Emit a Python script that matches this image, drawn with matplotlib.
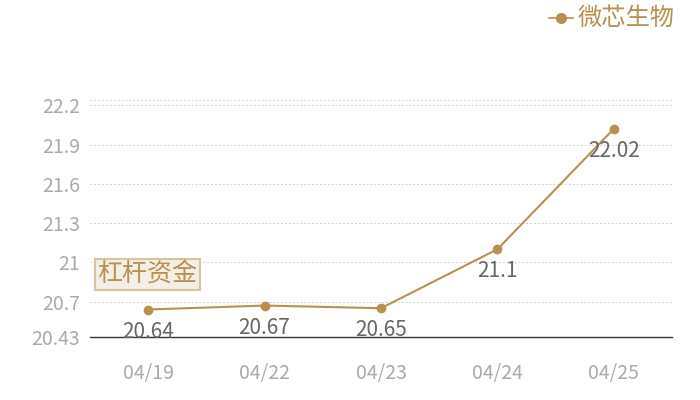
import matplotlib
matplotlib.use('Agg')
import matplotlib.pyplot as plt

plt.rcParams['font.family'] = ['Noto Sans CJK SC', 'DejaVu Sans']

dates = ['04/19', '04/22', '04/23', '04/24', '04/25']
values = [20.64, 20.67, 20.65, 21.1, 22.02]
yticks = [20.43, 20.7, 21, 21.3, 21.6, 21.9, 22.2]
ytick_labels = ['20.43', '20.7', '21', '21.3', '21.6', '21.9', '22.2']
series_name = '微芯生物'

gold = '#b8904f'

fig = plt.figure(figsize=(7, 4), dpi=100)
ax = fig.add_axes([90/700, 1-337/400, (672-90)/700, (337-100)/400])

x = list(range(len(dates)))
ax.plot(x, values, color=gold, lw=1.5, marker='o', ms=6, zorder=3)
for xi, v in zip(x, values):
    ax.annotate(str(v), (xi, v), xytext=(0, -8), textcoords='offset points',
                ha='center', va='top', fontsize=15, color='#666666')

ax.set_xlim(-0.5, len(dates) - 0.5)
ax.set_ylim(20.43, 22.24)
ax.set_xticks(x)
ax.set_xticklabels(dates)
ax.set_yticks(yticks)
ax.set_yticklabels(ytick_labels)
ax.tick_params(length=0, labelsize=14, colors='#aaaaaa')
ax.tick_params(axis='x', pad=19)
ax.tick_params(axis='y', pad=7)
ax.grid(axis='y', color='#d0d0d0', ls=(0, (2, 2)), lw=0.7)
ax.axhline(22.24, color='#d0d0d0', ls=(0, (2, 2)), lw=0.7)
for s in ['top', 'right', 'left']:
    ax.spines[s].set_visible(False)
ax.spines['bottom'].set_color('#333333')
ax.spines['bottom'].set_linewidth(1)

# legend
fig.lines.append(plt.Line2D([549/700, 573/700], [1-18/400, 1-18/400], color=gold, lw=1.2,
                            transform=fig.transFigure))
fig.lines.append(plt.Line2D([561/700], [1-18/400], color=gold, marker='o', ms=7,
                            transform=fig.transFigure))
fig.text(578/700, 1-18/400, series_name, color=gold, fontsize=17.5, va='center', ha='left')

# tag box
fig.text(147.5/700, 1-274.5/400, '杠杆资金', color=gold, fontsize=18, ha='center', va='center',
         bbox=dict(boxstyle='square,pad=0.1', facecolor='#f3eee6', edgecolor='#d8c3a0', lw=1.5))

fig.savefig('out.png', dpi=100)
